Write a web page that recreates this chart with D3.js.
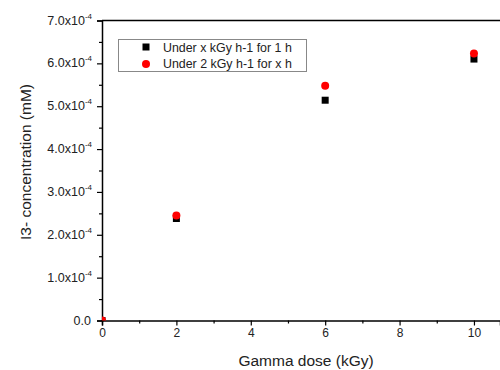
<!DOCTYPE html>
<meta charset="utf-8">
<script src="https://d3js.org/d3.v7.min.js"></script>
<style>
  body { margin: 0; background: #fff; }
  text { font-family: "Liberation Sans", Arial, sans-serif; }
</style>
<svg id="chart" width="500" height="370"></svg>
<script>
// data
const doses = [0, 2, 6, 10];
const rateSeries = [0, 2.38e-4, 5.14e-4, 6.10e-4];   // Under x kGy h-1 for 1 h
const timeSeries = [0, 2.45e-4, 5.48e-4, 6.23e-4];   // Under 2 kGy h-1 for x h
const seriesNames = ["Under x kGy h-1 for 1 h", "Under 2 kGy h-1 for x h"];
const yTicks = [0, 1e-4, 2e-4, 3e-4, 4e-4, 5e-4, 6e-4, 7e-4];
const xTicks = [0, 2, 4, 6, 8, 10];

const svg = d3.select("#chart");
const plotL = 102, plotR = 500, plotT = 20.5, plotB = 320.5;

const x = d3.scaleLinear().domain([0, 10.7]).range([plotL, plotR]);
const y = d3.scaleLinear().domain([0, 7e-4]).range([plotB, plotT]);

svg.append("clipPath").attr("id", "plot")
  .append("rect").attr("x", plotL).attr("y", plotT)
  .attr("width", plotR - plotL).attr("height", plotB - plotT);

// top frame line
svg.append("line")
  .attr("x1", plotL).attr("x2", plotR).attr("y1", plotT).attr("y2", plotT)
  .attr("stroke", "#000").attr("stroke-width", 1.5);

// x axis
const xAxis = svg.append("g").attr("transform", `translate(0,${plotB})`)
  .call(d3.axisBottom(x).tickValues(xTicks).tickSize(5).tickPadding(3).tickFormat(d3.format("d")));
svg.append("g").attr("transform", `translate(0,${plotB})`)
  .call(d3.axisBottom(x).tickValues([1, 3, 5, 7, 9]).tickSize(3).tickFormat(""))
  .select(".domain").remove();

// y axis
const yAxis = svg.append("g").attr("transform", `translate(${plotL},0)`)
  .call(d3.axisLeft(y).tickValues(yTicks).tickSize(5).tickPadding(6).tickFormat(""));
svg.append("g").attr("transform", `translate(${plotL},0)`)
  .call(d3.axisLeft(y).tickValues(yTicks.slice(0, -1).map(v => v + 0.5e-4)).tickSize(3).tickFormat(""))
  .select(".domain").remove();

svg.selectAll(".domain").attr("stroke-width", 1.5);
svg.selectAll(".tick line").attr("stroke-width", 1.2);
xAxis.selectAll("text").attr("font-size", 12).attr("fill", "#222");

// y tick labels with superscript exponent
yTicks.forEach(v => {
  const t = svg.append("text")
    .attr("x", v === 0 ? 91 : 92).attr("y", y(v) + 4)
    .attr("text-anchor", "end").attr("font-size", 12.5).attr("fill", "#222");
  if (v === 0) {
    t.text("0.0");
  } else {
    t.append("tspan").text((v / 1e-4).toFixed(1) + "x10");
    t.append("tspan").attr("font-size", 8).attr("dy", -6).text("-4");
  }
});

// axis titles
svg.append("text")
  .attr("x", 306).attr("y", 366).attr("text-anchor", "middle")
  .attr("font-size", 15.5).attr("fill", "#222").text("Gamma dose (kGy)");
svg.append("text")
  .attr("transform", "translate(31,162) rotate(-90)").attr("text-anchor", "middle")
  .attr("font-size", 15.5).attr("fill", "#222").text("I3- concentration (mM)");

// points
const pts = svg.append("g").attr("clip-path", "url(#plot)");
pts.selectAll(".sq").data(doses).join("rect").attr("class", "sq")
  .attr("x", (d, i) => x(d) - 3.5).attr("y", (d, i) => y(rateSeries[i]) - 3.5)
  .attr("width", 7).attr("height", 7).attr("fill", "#000");
pts.selectAll(".ci").data(doses).join("circle").attr("class", "ci")
  .attr("cx", d => x(d)).attr("cy", (d, i) => y(timeSeries[i]))
  .attr("r", 4).attr("fill", "#f00");

// legend
const lg = svg.append("g");
lg.append("rect").attr("x", 118.5).attr("y", 39.5).attr("width", 188).attr("height", 32)
  .attr("fill", "#fff").attr("stroke", "#888").attr("stroke-width", 1);
lg.append("rect").attr("x", 142.5).attr("y", 43.5).attr("width", 7).attr("height", 7).attr("fill", "#000");
lg.append("circle").attr("cx", 146).attr("cy", 64).attr("r", 4).attr("fill", "#f00");
seriesNames.forEach((n, i) => {
  lg.append("text").attr("x", 163).attr("y", 51.5 + i * 16.5)
    .attr("font-size", 12.4).attr("fill", "#222").text(n);
});
</script>
